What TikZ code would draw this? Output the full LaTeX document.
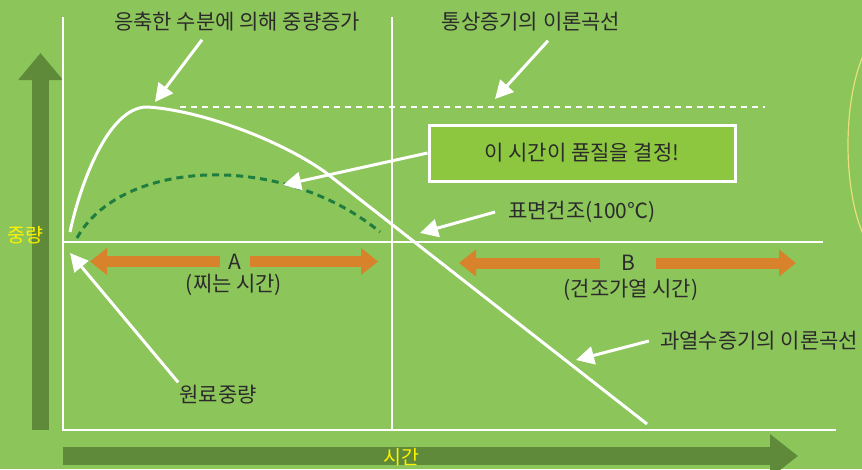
\documentclass[tikz,border=0pt]{standalone}
\usepackage{fontspec}
\setmainfont{Noto Sans CJK KR}
\usetikzlibrary{arrows.meta}
\definecolor{bggreen}{HTML}{8CC55A}
\definecolor{axisgreen}{HTML}{5E8A3A}
\definecolor{spanorange}{HTML}{D8832C}
\definecolor{curvegreen}{HTML}{1F7D3F}
\definecolor{boxgreen}{HTML}{8DC63F}
\definecolor{labelgray}{HTML}{2B2B2B}
\definecolor{axisyellow}{HTML}{FFF200}
\definecolor{ringyellow}{HTML}{E8E07A}

\begin{document}
\begin{tikzpicture}
[
    x=1pt, y=-1pt,
    notetext/.style={text=labelgray, font=\fontsize{21}{23}\selectfont, inner sep=1pt},
    axislabel/.style={text=axisyellow, font=\fontsize{19.5}{22}\selectfont, inner sep=0pt},
    axisarrow/.style={draw=axisgreen, line width=17pt},
    pointer/.style={draw=white, line width=3pt, -{Triangle[length=18pt,width=18pt]}},
    spanarrow/.style={draw=spanorange, line width=11pt, -{Triangle[length=17pt,width=26pt]}},
    gridline/.style={draw=white, line width=2.5pt},
    qualitybox/.style={draw=white, line width=3pt, fill=boxgreen, minimum width=306pt,
        minimum height=56pt, text=labelgray, font=\fontsize{21}{23}\selectfont},
]
\fill[bggreen] (0,0) rectangle (862,469);
\useasboundingbox (0,0) rectangle (862,469);

\draw[axisarrow, -{Triangle[length=27pt,width=43pt]}] (40.5,430) -- (40.5,53);
\draw[axisarrow, line width=18pt, -{Triangle[length=28pt,width=42pt]}] (63,456) -- (798,456);
\draw[ringyellow, line width=1.2pt] (888,145) ++(130:40 and 114)
    arc[start angle=130, end angle=230, x radius=40, y radius=114];

\draw[gridline] (63,17) -- (63,430) -- (836,430);
\draw[gridline] (392,17) -- (392,430);
\draw[gridline] (63,242) -- (823,242);

\draw[white, line width=3pt] (70,232) .. controls (80,185) and (108,107) .. (147,107)
    .. controls (200,110) and (280,140) .. (325,172) -- (647,424);
\draw[white, line width=2.5pt, dash pattern=on 6pt off 5pt] (180,107) -- (765,107);
\draw[curvegreen, line width=3pt, dash pattern=on 7pt off 5pt] (77,238)
    .. controls (120,160) and (280,150) .. (380,232);

\node[axislabel] (weight) at (25,235) {중량};
\node[axislabel] (time) at (401,457) {시간};

\node[notetext] (condense) at (237,22) {응축한 수분에 의해 중량증가};
\node[notetext] (normal) at (531,22) {통상증기의 이론곡선};
\node[notetext] (surface) at (582,212) {표면건조(100℃)};
\node[notetext, minimum width=30pt] (spanA) at (235,261.5) {A};
\node[notetext] (steamtime) at (234,285) {(찌는 시간)};
\node[notetext] (raw) at (218,395) {원료중량};
\node[notetext, minimum width=55pt] (spanB) at (628,263) {B};
\node[notetext] (drytime) at (631,290) {(건조가열 시간)};
\node[notetext] (superheat) at (759,341) {과열수증기의 이론곡선};
\node[qualitybox] (quality) at (582,153) {이 시간이 품질을 결정!};

\coordinate (peak) at (155,102);
\coordinate (normaltip) at (495,99);
\coordinate (surfacetip) at (420,233);
\coordinate (rawtip) at (70,253);
\coordinate (superheattip) at (576,360);
\coordinate (dashtip) at (283,185);
\coordinate (A left) at (90,261.5);
\coordinate (A right) at (378,261.5);
\coordinate (B left) at (459,263);
\coordinate (B right) at (796,263);

\draw[pointer] ([xshift=-35pt,yshift=-7pt]condense.south) -- (peak);
\draw[pointer] ([xshift=17pt,yshift=-8pt]normal.south) -- (normaltip);
\draw[pointer] ([xshift=-12pt]surface.west) -- (surfacetip);
\draw[pointer] ([yshift=2pt]raw.north west) -- (rawtip);
\draw[pointer] ([xshift=-10pt]superheat.west) -- (superheattip);
\draw[pointer] (quality.west) -- (dashtip);

\draw[spanarrow] (spanA.west) -- (A left);
\draw[spanarrow] (spanA.east) -- (A right);
\draw[spanarrow] (spanB.west) -- (B left);
\draw[spanarrow] (spanB.east) -- (B right);
\end{tikzpicture}
\end{document}
